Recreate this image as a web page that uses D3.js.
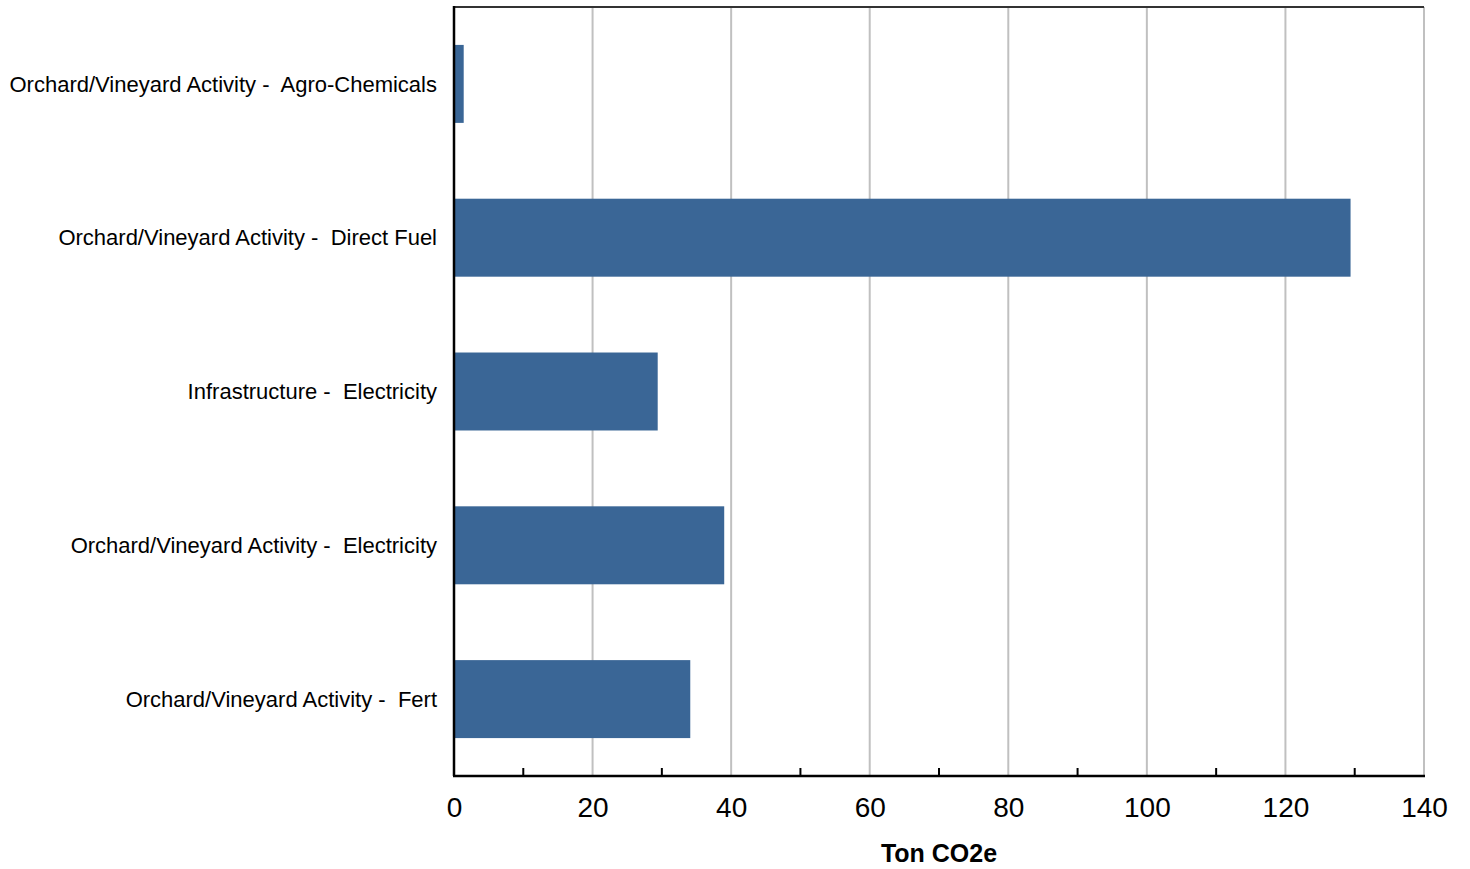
<!DOCTYPE html>
<html>
<head>
<meta charset="utf-8">
<script src="https://cdn.jsdelivr.net/npm/d3@7"></script>
<style>
body { margin: 0; background: #fff; }
text { font-family: "Liberation Sans", Arial, sans-serif; }
</style>
</head>
<body>
<div id="chart-area"></div>
<script>
// data
var categories = [
  "Orchard/Vineyard Activity -  Agro-Chemicals",
  "Orchard/Vineyard Activity -  Direct Fuel",
  "Infrastructure -  Electricity",
  "Orchard/Vineyard Activity -  Electricity",
  "Orchard/Vineyard Activity -  Fert"
];
var values = [1.4, 129.4, 29.4, 39.0, 34.1];
var majorTicks = [0, 20, 40, 60, 80, 100, 120, 140];
var minorTicks = [10, 30, 50, 70, 90, 110, 130];
var xTitle = "Ton CO2e";

var margin = {top: 7, right: 46, bottom: 93, left: 454};
var width = 1470 - margin.left - margin.right;
var height = 869 - margin.top - margin.bottom;

var svg = d3.select("#chart-area").append("svg")
            .attr("width", 1470)
            .attr("height", 869);

var g = svg.append("g")
           .attr("transform", "translate(" + margin.left + "," + margin.top + ")");

var xscale = d3.scaleLinear()
               .domain([0, 140])
               .range([0, width]);

var yscale = d3.scaleBand()
               .domain(categories)
               .range([0, height])
               .paddingInner(0.493)
               .paddingOuter(0.2465);

// gridlines
g.selectAll(".grid")
 .data(majorTicks.slice(1))
 .enter()
 .append("line")
 .attr("class", "grid")
 .attr("x1", function(d){ return xscale(d); })
 .attr("x2", function(d){ return xscale(d); })
 .attr("y1", 0)
 .attr("y2", height)
 .attr("stroke", "#c0c0c0")
 .attr("stroke-width", 2);

// top border
g.append("line")
 .attr("x1", 0).attr("x2", width)
 .attr("y1", 0).attr("y2", 0)
 .attr("stroke", "#333").attr("stroke-width", 2);

// bars
g.selectAll(".bar")
 .data(values)
 .enter()
 .append("rect")
 .attr("class", "bar")
 .attr("x", xscale(0))
 .attr("y", function(d, i){ return yscale(categories[i]); })
 .attr("width", function(d){ return xscale(d) - xscale(0); })
 .attr("height", yscale.bandwidth())
 .attr("fill", "#3a6696");

// x axis
var bottomaxis = d3.axisBottom(xscale)
                   .tickValues(majorTicks)
                   .tickSize(0)
                   .tickPadding(21);

var xg = g.append("g")
          .attr("transform", "translate(0," + height + ")")
          .call(bottomaxis);
xg.select(".domain").remove();
xg.selectAll("text")
  .attr("font-size", 28)
  .attr("fill", "#000")
  .style("font-family", "'Liberation Sans', Arial, sans-serif");

// minor ticks pointing up
g.selectAll(".minor")
 .data(minorTicks)
 .enter()
 .append("line")
 .attr("class", "minor")
 .attr("x1", function(d){ return xscale(d); })
 .attr("x2", function(d){ return xscale(d); })
 .attr("y1", height)
 .attr("y2", height - 8)
 .attr("stroke", "#000")
 .attr("stroke-width", 2);

g.append("line")
 .attr("x1", -1).attr("x2", width + 1)
 .attr("y1", height).attr("y2", height)
 .attr("stroke", "#000").attr("stroke-width", 2.5);

g.append("line")
 .attr("x1", 0).attr("x2", 0)
 .attr("y1", -1).attr("y2", height)
 .attr("stroke", "#000").attr("stroke-width", 2.5);

// category labels
g.selectAll(".cat")
 .data(categories)
 .enter()
 .append("text")
 .attr("class", "cat")
 .attr("x", -17)
 .attr("y", function(d){ return yscale(d) + yscale.bandwidth() / 2; })
 .attr("dy", "0.35em")
 .attr("text-anchor", "end")
 .attr("font-size", 22)
 .style("white-space", "pre")
 .text(function(d){ return d; });

// axis title
g.append("text")
 .attr("x", width / 2)
 .attr("y", height + 86)
 .attr("text-anchor", "middle")
 .attr("font-size", 25)
 .attr("font-weight", "bold")
 .text(xTitle);
</script>
</body>
</html>
